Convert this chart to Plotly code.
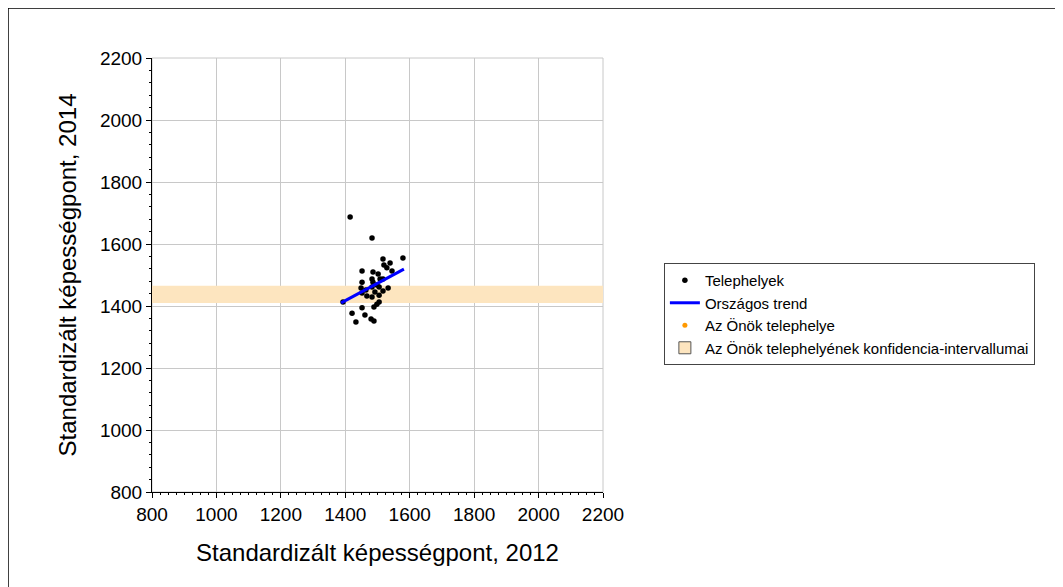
import plotly.graph_objects as go

# Data
site_x = [1415, 1483, 1579, 1517, 1539, 1520, 1529, 1452, 1486, 1545, 1502, 1483, 1508,
          1452, 1486, 1517, 1498, 1483, 1505, 1533, 1449, 1464, 1517, 1492, 1452, 1467,
          1483, 1505, 1393, 1505, 1498, 1489, 1452, 1421, 1461, 1480, 1489, 1433]
site_y = [1687, 1619, 1555, 1552, 1539, 1532, 1523, 1513, 1510, 1513, 1503, 1487, 1487,
          1477, 1477, 1487, 1468, 1461, 1461, 1458, 1458, 1452, 1448, 1445, 1442, 1432,
          1429, 1435, 1413, 1413, 1406, 1397, 1394, 1377, 1371, 1358, 1352, 1348]
trend_x = [1387, 1582]
trend_y = [1410, 1519]
band_low, band_high = 1410, 1465
axis_min, axis_max = 800, 2200

FONT = "Liberation Sans, Arial, sans-serif"
BAND = "#FDE5BF"

fig = go.Figure()

fig.add_trace(go.Scatter(
    x=site_x, y=site_y, mode="markers", name="Telephelyek",
    marker=dict(color="black", size=5.5)))

fig.add_trace(go.Scatter(
    x=trend_x, y=trend_y, mode="lines", name="Országos trend",
    line=dict(color="#0000FF", width=3)))

fig.add_trace(go.Scatter(
    x=[None], y=[None], mode="markers", name="Az Önök telephelye",
    marker=dict(color="#FF9900", size=5)))

tickvals = list(range(axis_min, axis_max + 1, 200))

axis_common = dict(
    range=[axis_min, axis_max], tickvals=tickvals,
    showgrid=True, gridcolor="#C8C8C8", gridwidth=1,
    showline=True, linecolor="black", linewidth=1,
    ticks="outside", ticklen=5, tickcolor="black",
    tickfont=dict(family=FONT, size=19, color="black"),
    zeroline=False,
)

fig.update_layout(
    width=1055, height=579,
    margin=dict(l=144, r=460, t=50, b=95),
    paper_bgcolor="white", plot_bgcolor="white",
    font=dict(family=FONT, color="black"),
    xaxis=dict(**axis_common,
               minor=dict(dtick=25, ticks="outside", ticklen=2, tickcolor="black", showgrid=False),
               title=dict(text="Standardizált képességpont, 2012",
                          font=dict(family=FONT, size=24), standoff=20)),
    yaxis=dict(**axis_common,
               minor=dict(dtick=40, ticks="outside", ticklen=2, tickcolor="black", showgrid=False),
               title=dict(text="Standardizált képességpont, 2014",
                          font=dict(family=FONT, size=24), standoff=16)),
    legend=dict(x=1.135, y=0.5276, xanchor="left", yanchor="top",
                bordercolor="#444444", borderwidth=1, bgcolor="white",
                font=dict(family=FONT, size=15), tracegroupgap=0,
                itemwidth=30),
    shapes=[
        # confidence band across the plot
        dict(type="rect", xref="x", yref="y", x0=axis_min, x1=axis_max,
             y0=band_low, y1=band_high, fillcolor=BAND, line=dict(width=0),
             layer="between"),
        dict(type="rect", xref="paper", yref="paper", x0=0, x1=1, y0=0, y1=1,
             line=dict(color="#C8C8C8", width=1), layer="below"),
        dict(type="rect", xref="paper", yref="paper", x0=-0.3193, x1=2.0155,
             y0=-0.3, y1=1.1152, line=dict(color="black", width=1.5), layer="below"),
        # legend entry for the band (placed outside the visible range)
        dict(type="rect", xref="x", yref="y", x0=5000, x1=5100, y0=5000, y1=5100,
             fillcolor=BAND, line=dict(color="#555555", width=1),
             showlegend=True, name="Az Önök telephelyének konfidencia-intervallumai"),
    ],
)

fig.write_html("out.html")
